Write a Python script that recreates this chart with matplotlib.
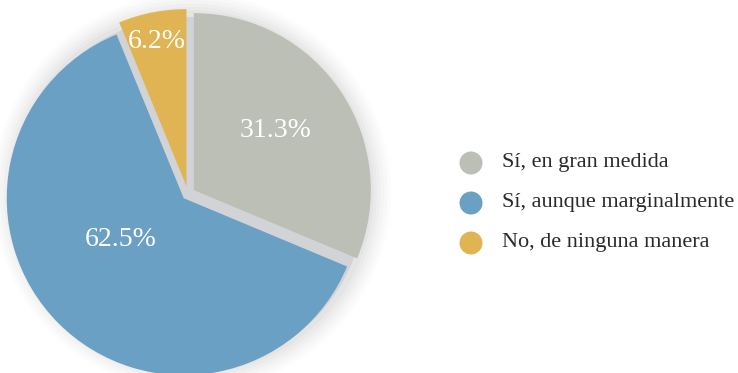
import matplotlib
matplotlib.use("Agg")
import matplotlib.pyplot as plt
from matplotlib.patches import Circle
import math

categories = ["Sí, en gran medida", "Sí, aunque marginalmente", "No, de ninguna manera"]
values = [31.3, 62.5, 6.2]
colors = ["#bbbfb6", "#6aa0c3", "#e1b453"]
pct_labels = ["31.3%", "62.5%", "6.2%"]

W, H = 738, 373
fig = plt.figure(figsize=(W / 100, H / 100), dpi=100)
ax = fig.add_axes([0, 0, 1, 1])

cx, cy = 188, H - 194
r = 177

# soft shadow
for i, a in enumerate([0.02, 0.025, 0.03, 0.035, 0.04, 0.05]):
    ax.add_patch(Circle((cx + 4, cy + 2), r + 22 - i * 3.5, color="#7a7a80", alpha=a, lw=0, zorder=0))
ax.add_patch(Circle((cx + 1, cy), r, color="#d2d3d6", lw=0, zorder=1))

wedges, texts, autotexts = ax.pie(
    values, colors=colors, startangle=90, counterclock=False,
    center=(cx, cy), radius=r, explode=[7, 6, 8],
    autopct="%1.1f%%", pctdistance=0.6, frame=True,
    wedgeprops=dict(lw=0, zorder=2),
    textprops=dict(color="white", fontsize=20, family="Liberation Serif"),
)
ax.set_xlim(0, W)
ax.set_ylim(0, H)
ax.set_aspect("equal")
ax.axis("off")

# custom label placements (fraction of radius, angle in degrees)
label_pos = [(0.61, 36), (0.46, 214), (0.88, 101.5)]
for t, lab, (d, ang) in zip(autotexts, pct_labels, label_pos):
    t.set_text(lab)
    t.set_position((cx + d * r * math.cos(math.radians(ang)), cy + d * r * math.sin(math.radians(ang))))
    t.set_zorder(5)

# legend
lx, ly0, pitch = 471, H - 163, 40
for i, (lab, c) in enumerate(zip(categories, colors)):
    y = ly0 - i * pitch
    ax.add_patch(Circle((lx, y), 11.5, color=c, lw=0, zorder=3))
    ax.text(lx + 31, y, lab, fontsize=16, family="Liberation Serif", color="#2a2a2a",
            va="center", ha="left")

fig.savefig("out.png", dpi=100, facecolor="white")
